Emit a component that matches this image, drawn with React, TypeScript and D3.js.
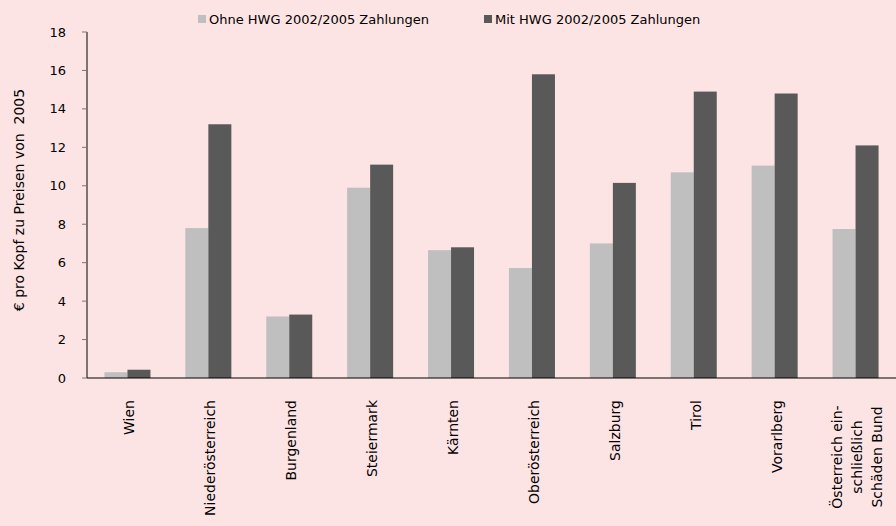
import React from "react";
import * as d3 from "d3";

const categories: string[][] = [
  ["Wien"],
  ["Niederösterreich"],
  ["Burgenland"],
  ["Steiermark"],
  ["Kärnten"],
  ["Oberösterreich"],
  ["Salzburg"],
  ["Tirol"],
  ["Vorarlberg"],
  ["Österreich ein-", "schließlich", "Schäden Bund"],
];
const ohne: number[] = [0.3, 7.8, 3.2, 9.9, 6.65, 5.72, 7.0, 10.7, 11.05, 7.75];
const mit: number[] = [0.43, 13.2, 3.3, 11.1, 6.8, 15.8, 10.15, 14.9, 14.8, 12.1];
const seriesNames = ["Ohne HWG 2002/2005 Zahlungen", "Mit HWG 2002/2005 Zahlungen"];
const yTicks: number[] = [0, 2, 4, 6, 8, 10, 12, 14, 16, 18];
const yTitle = "€ pro Kopf zu Preisen von  2005";

const W = 896;
const H = 526;
const FONT = "'DejaVu Sans', sans-serif";
const colors = ["#bfbfbf", "#595959"];

export default function App() {
  const left = 87;
  const right = 896;
  const top = 32;
  const bottom = 378;
  const keys = categories.map((c) => c.join(" "));
  const x = d3.scaleBand<string>().domain(keys).range([left, right]);
  const y = d3.scaleLinear().domain([0, 18]).range([bottom, top]);
  const bw = 23;
  const series = [ohne, mit];
  return (
    <svg width={W} height={H} style={{ position: "absolute", left: 0, top: 0, display: "block" }}>
      <rect x={0} y={0} width={W} height={H} fill="#fde4e4" />
      {series.map((vals, si) =>
        vals.map((v, i) => {
          const cx = (x(keys[i]) as number) + x.bandwidth() / 2;
          const bx = si === 0 ? cx - bw : cx;
          return (
            <rect
              key={`${si}-${i}`}
              x={bx}
              y={y(v)}
              width={bw}
              height={bottom - y(v)}
              fill={colors[si]}
            />
          );
        })
      )}
      <line x1={left} x2={left} y1={top} y2={bottom} stroke="#000" strokeWidth={1} />
      {yTicks.map((t) => (
        <g key={t}>
          <line x1={left - 5} x2={left} y1={y(t)} y2={y(t)} stroke="#777" strokeWidth={1} />
          <text x={66} y={y(t)} dy="0.35em" textAnchor="end" fontFamily={FONT} fontSize={13} fill="#000">
            {t}
          </text>
        </g>
      ))}
      <line x1={left} x2={right} y1={bottom} y2={bottom} stroke="#000" strokeWidth={1} />
      {categories.map((lines, i) => {
        const cx = (x(keys[i]) as number) + x.bandwidth() / 2 + 2;
        if (lines.length === 1) {
          return (
            <text
              key={i}
              transform={`translate(${cx},400) rotate(-90)`}
              textAnchor="end"
              dy="0.35em"
              fontFamily={FONT}
              fontSize={14}
              fill="#000"
            >
              {lines[0]}
            </text>
          );
        }
        const lh = 20;
        return (
          <g key={i} transform={`translate(${cx},457) rotate(-90)`}>
            {lines.map((l, j) => (
              <text
                key={j}
                x={0}
                y={(j - (lines.length - 1) / 2) * lh}
                dy="0.35em"
                textAnchor="middle"
                fontFamily={FONT}
                fontSize={14}
                fill="#000"
              >
                {l}
              </text>
            ))}
          </g>
        );
      })}
      <text
        transform={`translate(19,200) rotate(-90)`}
        textAnchor="middle"
        dy="0.35em"
        fontFamily={FONT}
        fontSize={14}
        fill="#000"
        style={{ whiteSpace: "pre" }}
      >
        {yTitle}
      </text>
      {seriesNames.map((n, i) => {
        const lx = i === 0 ? 198 : 484;
        return (
          <g key={n}>
            <rect x={lx} y={15} width={8} height={8} fill={colors[i]} />
            <text x={lx + 11} y={19} dy="0.35em" fontFamily={FONT} fontSize={13} fill="#000">
              {n}
            </text>
          </g>
        );
      })}
    </svg>
  );
}
